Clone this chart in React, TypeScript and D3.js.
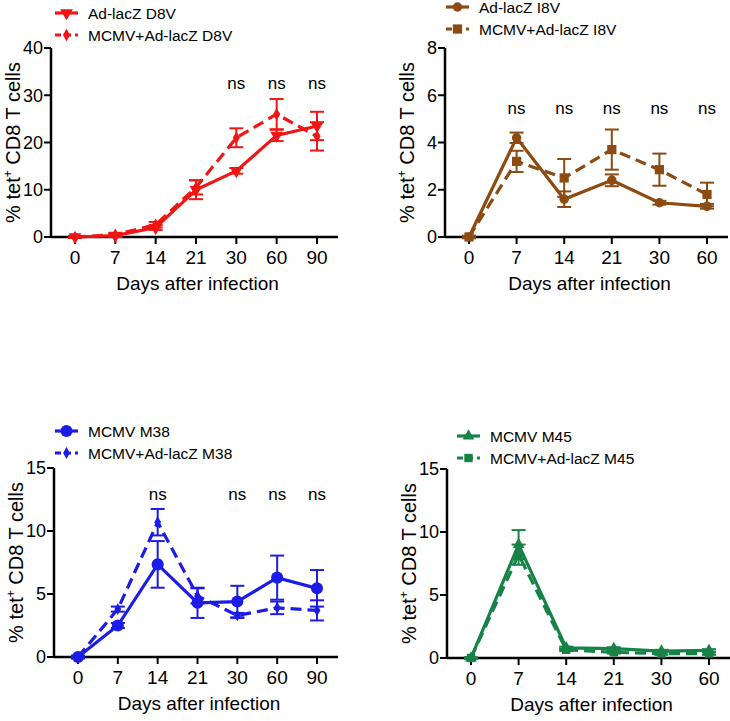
import React from 'react';
import * as d3 from 'd3';

// day categories
const days7 = ['0', '7', '14', '21', '30', '60', '90'];
const days6 = ['0', '7', '14', '21', '30', '60'];

// D8V (top left)
const d8vSolid = [0, 0.3, 2.0, 10.0, 14.0, 21.5, 23.5];
const d8vSolidErr = [0.2, 0.3, 0.5, 2.0, 0.6, 1.2, 3.0];
const d8vDashed = [0, 0.5, 2.6, 10.5, 21.0, 26.0, 21.3];
const d8vDashedErr = [0.2, 0.4, 0.6, 1.5, 2.0, 3.2, 3.0];

// I8V (top right)
const i8vSolid = [0, 4.2, 1.6, 2.4, 1.45, 1.3];
const i8vSolidErr = [0.05, 0.22, 0.33, 0.25, 0.08, 0.1];
const i8vDashed = [0, 3.2, 2.5, 3.7, 2.85, 1.8];
const i8vDashedErr = [0.05, 0.45, 0.8, 0.85, 0.68, 0.5];

// M38 (bottom left)
const m38Solid = [0, 2.5, 7.35, 4.3, 4.4, 6.3, 5.45];
const m38SolidErr = [0.1, 0.2, 1.85, 1.2, 1.25, 1.75, 1.45];
const m38Dashed = [0, 3.8, 10.7, 4.85, 3.3, 3.9, 3.7];
const m38DashedErr = [0.1, 0.2, 1.05, 0.6, 0.2, 0.5, 0.8];

// M45 (bottom right)
const m45Solid = [0, 9.0, 0.8, 0.75, 0.55, 0.6];
const m45SolidErr = [0.05, 1.15, 0.1, 0.1, 0.1, 0.1];
const m45Dashed = [0, 8.2, 0.65, 0.45, 0.35, 0.35];
const m45DashedErr = [0.05, 0.8, 0.1, 0.1, 0.1, 0.1];

const FONT = 'Liberation Sans, Arial, sans-serif';

const symbolPath = (type, size) => d3.symbol().type(type).size(size)();

function Panel(props) {
  const { left, top, bottom, right, days, yMax, yTicks, series, ns, nsValue, color, legendX, legendY } = props;
  const x = d3.scalePoint().domain(days).range([left + 24, right - 21]);
  const y = d3.scaleLinear().domain([0, yMax]).range([bottom, top]);
  const line = d3.line().x((d, i) => x(days[i])).y(d => y(d));

  return (
    <g fontFamily={FONT}>
      {/* axes */}
      <line x1={left} x2={left} y1={top} y2={bottom} stroke="#000" strokeWidth={2.5} />
      <line x1={left} x2={right} y1={bottom} y2={bottom} stroke="#000" strokeWidth={2.5} />
      {yTicks.map(t => (
        <g key={'y' + t}>
          <line x1={left - 7} x2={left} y1={y(t)} y2={y(t)} stroke="#000" strokeWidth={2} />
          <text x={left - 8} y={y(t)} dy="0.36em" textAnchor="end" fontSize={18}>{t}</text>
        </g>
      ))}
      {days.map(d => (
        <g key={'x' + d}>
          <line x1={x(d)} x2={x(d)} y1={bottom} y2={bottom + 7} stroke="#000" strokeWidth={2} />
          <text x={x(d)} y={bottom + 27} textAnchor="middle" fontSize={19}>{d}</text>
        </g>
      ))}
      <text x={(left + right) / 2 + 3} y={bottom + 53} textAnchor="middle" fontSize={19}>Days after infection</text>
      <text transform={`translate(${left - 31},${(top + bottom) / 2}) rotate(-90)`} textAnchor="middle" fontSize={20}>
        % tet<tspan fontSize={12} dy={-8}>+</tspan><tspan dy={8}> CD8 T cells</tspan>
      </text>

      {/* series */}
      {series.map((s, si) => (
        <g key={'s' + si}>
          {s.values.map((v, i) => (
            <g key={i} stroke={color} strokeWidth={2}>
              <line x1={x(days[i])} x2={x(days[i])} y1={y(v - s.err[i])} y2={y(v + s.err[i])} />
              <line x1={x(days[i]) - 7} x2={x(days[i]) + 7} y1={y(v + s.err[i])} y2={y(v + s.err[i])} />
              <line x1={x(days[i]) - 7} x2={x(days[i]) + 7} y1={y(v - s.err[i])} y2={y(v - s.err[i])} />
            </g>
          ))}
          <path d={line(s.values)} fill="none" stroke={color} strokeWidth={3.2}
            strokeDasharray={s.dashed ? '11,6' : null} />
          {s.values.map((v, i) => (
            <path key={'m' + i} d={symbolPath(s.symbol, s.size)}
              transform={`translate(${x(days[i])},${y(v)}) rotate(${s.rotate || 0})`} fill={color} />
          ))}
        </g>
      ))}

      {ns.map(d => (
        <text key={'ns' + d} x={x(d)} y={y(nsValue)} dy="0.35em" textAnchor="middle" fontSize={17}>ns</text>
      ))}

      {/* legend */}
      {series.map((s, si) => {
        const ly = legendY + si * 22;
        return (
          <g key={'l' + si}>
            <line x1={legendX} x2={legendX + 23} y1={ly} y2={ly} stroke={color} strokeWidth={3.2}
              strokeDasharray={s.dashed ? '6,4' : null} />
            <path d={symbolPath(s.symbol, s.size)} transform={`translate(${legendX + 11.5},${ly}) rotate(${s.rotate || 0})`} fill={color} />
            <text x={legendX + 33} y={ly} dy="0.36em" fontSize={15.5}>{s.name}</text>
          </g>
        );
      })}
    </g>
  );
}

export default function App() {
  const red = '#f01616';
  const brown = '#8c4b12';
  const blue = '#1c1ce6';
  const green = '#168246';
  return (
    <svg width={730} height={721} style={{ position: 'absolute', left: 0, top: 0, background: '#fff' }}>
      <rect width={730} height={721} fill="#fff" />
      <Panel left={51} top={48} bottom={237} right={338} days={days7} yMax={40} yTicks={[0, 10, 20, 30, 40]}
        color={red} ns={['30', '60', '90']} nsValue={32.6} legendX={55} legendY={13}
        series={[
          { name: 'Ad-lacZ D8V', values: d8vSolid, err: d8vSolidErr, symbol: d3.symbolTriangle, size: 70, rotate: 180 },
          { name: 'MCMV+Ad-lacZ D8V', values: d8vDashed, err: d8vDashedErr, symbol: d3.symbolDiamond, size: 45, dashed: true },
        ]} />
      <Panel left={445} top={48} bottom={237} right={728} days={days6} yMax={8} yTicks={[0, 2, 4, 6, 8]}
        color={brown} ns={['7', '14', '21', '30', '60']} nsValue={5.46} legendX={446} legendY={7}
        series={[
          { name: 'Ad-lacZ I8V', values: i8vSolid, err: i8vSolidErr, symbol: d3.symbolCircle, size: 70 },
          { name: 'MCMV+Ad-lacZ I8V', values: i8vDashed, err: i8vDashedErr, symbol: d3.symbolSquare, size: 85, dashed: true },
        ]} />
      <Panel left={54} top={468} bottom={657} right={338} days={days7} yMax={15} yTicks={[0, 5, 10, 15]}
        color={blue} ns={['14', '30', '60', '90']} nsValue={12.9} legendX={55} legendY={431}
        series={[
          { name: 'MCMV M38', values: m38Solid, err: m38SolidErr, symbol: d3.symbolCircle, size: 115 },
          { name: 'MCMV+Ad-lacZ M38', values: m38Dashed, err: m38DashedErr, symbol: d3.symbolDiamond, size: 40, dashed: true },
        ]} />
      <Panel left={447} top={469} bottom={658} right={730} days={days6} yMax={15} yTicks={[0, 5, 10, 15]}
        color={green} ns={[]} nsValue={0} legendX={457} legendY={436}
        series={[
          { name: 'MCMV M45', values: m45Solid, err: m45SolidErr, symbol: d3.symbolTriangle, size: 60 },
          { name: 'MCMV+Ad-lacZ M45', values: m45Dashed, err: m45DashedErr, symbol: d3.symbolSquare, size: 70, dashed: true },
        ]} />
    </svg>
  );
}
